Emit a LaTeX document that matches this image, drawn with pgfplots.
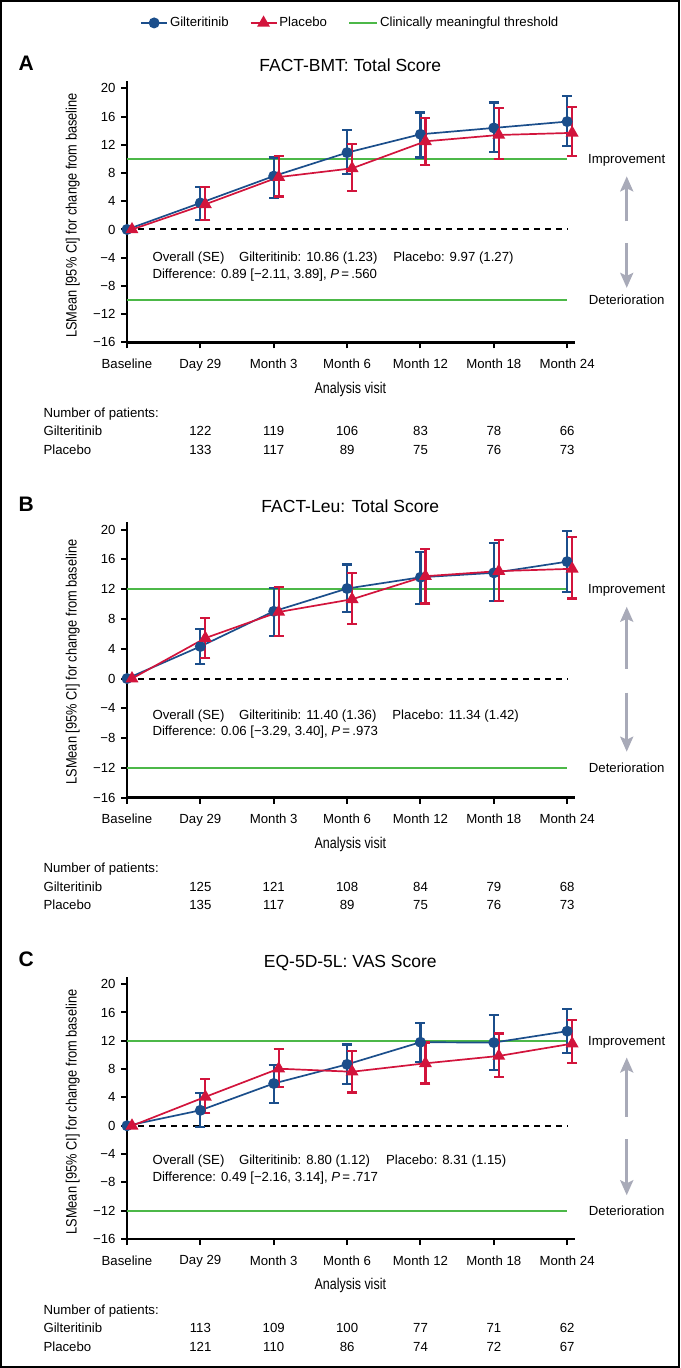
\documentclass[border=0pt]{standalone}
\usepackage{fontspec}
\setmainfont{Liberation Sans}
\newfontfamily\condfont{Liberation Sans}[FakeStretch=0.854]
\newfontfamily\narrowfont{Liberation Sans}[FakeStretch=0.80]
\usepackage{pgfplots}
\usepackage{pgfplotstable}
\pgfplotsset{compat=1.18}
\usetikzlibrary{arrows.meta}
\definecolor{gblue}{HTML}{1B4E8B}
\definecolor{pred}{HTML}{D2143C}
\definecolor{tgreen}{HTML}{4CB848}
\definecolor{agray}{HTML}{A8AAB8}
\newcommand{\fs}{\fontsize{13.2}{15.8}\selectfont}

% ---------- Panel A: FACT-BMT ----------
\pgfplotstableread{
x y hi lo
0 0 0 0
1 3.76 6.05 1.33
2 7.57 10.20 4.52
3 10.90 14.10 7.86
4 13.50 16.60 10.20
5 14.40 18.00 11.00
6 15.30 18.95 11.80
}\AG
\pgfplotstableread{
x y hi lo
0.068 0 0 0
1.068 3.57 6.05 1.33
2.068 7.43 10.40 4.67
3.068 8.67 12.10 5.43
4.068 12.50 15.80 9.10
5.068 13.40 17.20 9.95
6.068 13.70 17.40 10.40
}\AP
% ---------- Panel B: FACT-Leu ----------
\pgfplotstableread{
x y hi lo
0 0 0 0
1 4.31 6.70 1.93
2 9.03 12.18 5.75
3 12.09 15.33 8.90
4 13.60 17.00 10.00
5 14.20 18.16 10.38
6 15.70 19.80 11.60
}\BG
\pgfplotstableread{
x y hi lo
0.068 0 0 0
1.068 5.44 8.09 2.74
2.068 8.94 12.30 5.75
3.068 10.65 14.20 7.37
4.068 13.75 17.35 10.07
5.068 14.43 18.56 10.47
6.068 14.74 18.97 10.74
}\BP
% ---------- Panel C: EQ-5D-5L VAS ----------
\pgfplotstableread{
x y hi lo
0 0 0 0
1 2.18 4.64 -0.19
2 5.97 8.58 3.22
3 8.67 11.47 5.88
4 11.80 14.55 9.05
5 11.75 15.60 7.87
6 13.36 16.45 10.33
}\CG
\pgfplotstableread{
x y hi lo
0.068 0 0 0
1.068 4.08 6.59 1.75
2.068 8.06 10.85 5.50
3.068 7.63 10.57 4.69
4.068 8.82 11.75 5.97
5.068 9.86 13.03 6.92
6.068 11.60 14.98 8.82
}\CP

\pgfplotsset{
  panel/.style={
    scale only axis, width=446.7pt,
    xmin=0, xmax=6.089, ymin=-16, ymax=20.85,
    axis x line*=bottom, axis y line*=left,
    axis line style={line width=2.6pt, black, line cap=rect},
    x axis line style={line width=2.6pt, black},
    y axis line style={line width=2.6pt, black},
    every outer x axis line/.append style={line width=2.6pt},
    every outer y axis line/.append style={line width=2.6pt},
    tick align=outside, major tick length=6pt,
    major tick style={black, line width=2pt},
    xtick={0,...,6},
    xticklabels={Baseline,Day 29,Month 3,Month 6,Month 12,Month 18,Month 24},
    ytick={-16,-12,...,20},
    yticklabels={−16,−12,−8,−4,0,4,8,12,16,20},
    tick label style={font=\fs},
    xticklabel style={yshift=-7pt},
    yticklabel style={xshift=-2pt},
    clip=false,
  },
  gline/.style={gblue, line width=1.7pt, mark=*, mark size=4.6pt, mark options={solid, fill=gblue}},
  pline/.style={pred, line width=1.7pt, mark=triangle*, mark size=5.8pt, mark options={solid, fill=pred}},
  gerr/.style={gblue, line width=2.2pt, draw=none, mark=none, forget plot, skip coords between index={0}{1},
     error bars/.cd, y dir=both, y explicit,
     error bar style={draw=gblue, line width=2.2pt},
     error mark options={draw=gblue, line width=2.2pt, mark size=5pt, rotate=90}},
  perr/.style={pred, line width=2.2pt, draw=none, mark=none, forget plot, skip coords between index={0}{1},
     error bars/.cd, y dir=both, y explicit,
     error bar style={draw=pred, line width=2.2pt},
     error mark options={draw=pred, line width=2.2pt, mark size=5pt, rotate=90}},
  thr/.style={tgreen, line width=2pt, forget plot},
  zer/.style={black, line width=2pt, dash pattern=on 6pt off 5pt, forget plot},
  mleg/.style={legend image code/.code={\draw[mark repeat=2,mark phase=2,##1] plot coordinates {(0pt,0pt)(13pt,0pt)(26pt,0pt)};}},
  lleg/.style={legend image code/.code={\draw[##1] (0pt,0pt) -- (28pt,0pt);}},
}
\tikzset{arr/.style={agray, line width=2.8pt, -{Stealth[length=15pt,width=13pt,inset=3pt]}}}

\begin{document}
\begin{tikzpicture}[x=1pt,y=1pt,font=\fs]
\path[use as bounding box] (0,0) rectangle (680,-1368);
\draw[line width=2pt] (1,-1) rectangle (679,-1367);

% ================= Panel A =================
\begin{axis}[panel, at={(127pt,-342.3pt)}, anchor=south west, height=259.85pt,
  legend style={at={(axis description cs:0.5,1.229)}, anchor=center, draw=none, fill=none,
    font=\fs, legend columns=3, /tikz/every even column/.append style={column sep=19pt}}]
\addlegendimage{gline, mleg}
\addlegendentry{Gilteritinib}
\addlegendimage{pline, mleg}
\addlegendentry{Placebo}
\addlegendimage{tgreen, line width=2pt, lleg}
\addlegendentry{Clinically meaningful threshold}
\addplot[thr] coordinates {(0,10) (6,10)};
\addplot[thr] coordinates {(0,-10) (6,-10)};
\addplot[zer] coordinates {(0,0) (6,0)};
\addplot[gline, forget plot] table[x=x,y=y] {\AG};
\addplot[gerr] table[x=x,y=y,y error plus expr=\thisrow{hi}-\thisrow{y}, y error minus expr=\thisrow{y}-\thisrow{lo}] {\AG};
\addplot[pline, forget plot] table[x=x,y=y] {\AP};
\addplot[perr] table[x=x,y=y,y error plus expr=\thisrow{hi}-\thisrow{y}, y error minus expr=\thisrow{y}-\thisrow{lo}] {\AP};
\draw[arr] (axis cs:6.812,1.14) -- (axis cs:6.812,7.53);
\draw[arr] (axis cs:6.812,-1.89) -- (axis cs:6.812,-8.28);
\node[anchor=base, yshift=-4.7pt] at (axis cs:6.812,10) {Improvement};
\node[anchor=base, yshift=-4.7pt] at (axis cs:6.812,-10) {Deterioration};
\end{axis}

% ================= Panel B =================
\begin{axis}[panel, at={(127pt,-797.7pt)}, anchor=south west, height=274.4pt]
\addplot[thr] coordinates {(0,12) (6,12)};
\addplot[thr] coordinates {(0,-12) (6,-12)};
\addplot[zer] coordinates {(0,0) (6,0)};
\addplot[gline, forget plot] table[x=x,y=y] {\BG};
\addplot[gerr] table[x=x,y=y,y error plus expr=\thisrow{hi}-\thisrow{y}, y error minus expr=\thisrow{y}-\thisrow{lo}] {\BG};
\addplot[pline, forget plot] table[x=x,y=y] {\BP};
\addplot[perr] table[x=x,y=y,y error plus expr=\thisrow{hi}-\thisrow{y}, y error minus expr=\thisrow{y}-\thisrow{lo}] {\BP};
\draw[arr] (axis cs:6.812,1.30) -- (axis cs:6.812,9.64);
\draw[arr] (axis cs:6.812,-1.88) -- (axis cs:6.812,-9.82);
\node[anchor=base, yshift=-4.7pt] at (axis cs:6.812,12) {Improvement};
\node[anchor=base, yshift=-4.7pt] at (axis cs:6.812,-12) {Deterioration};
\end{axis}

% ================= Panel C =================
\begin{axis}[panel, at={(127pt,-1239pt)}, anchor=south west, height=260.85pt]
\addplot[thr] coordinates {(0,12) (6,12)};
\addplot[thr] coordinates {(0,-12) (6,-12)};
\addplot[zer] coordinates {(0,0) (6,0)};
\addplot[gline, forget plot] table[x=x,y=y] {\CG};
\addplot[gerr] table[x=x,y=y,y error plus expr=\thisrow{hi}-\thisrow{y}, y error minus expr=\thisrow{y}-\thisrow{lo}] {\CG};
\addplot[pline, forget plot] table[x=x,y=y] {\CP};
\addplot[perr] table[x=x,y=y,y error plus expr=\thisrow{hi}-\thisrow{y}, y error minus expr=\thisrow{y}-\thisrow{lo}] {\CP};
\draw[arr] (axis cs:6.812,1.30) -- (axis cs:6.812,9.64);
\draw[arr] (axis cs:6.812,-1.88) -- (axis cs:6.812,-9.82);
\node[anchor=base, yshift=-4.7pt] at (axis cs:6.812,12) {Improvement};
\node[anchor=base, yshift=-4.7pt] at (axis cs:6.812,-12) {Deterioration};
\end{axis}

% ---------- letters & titles ----------
\node[anchor=base west, font=\fontsize{21}{24}\selectfont\bfseries] at (15,-70.5) {A};
\node[anchor=base west, font=\fontsize{21}{24}\selectfont\bfseries] at (15,-511.7) {B};
\node[anchor=base west, font=\fontsize{21}{24}\selectfont\bfseries] at (15,-966.5) {C};
\node[anchor=base, font=\fontsize{17.5}{20}\selectfont] at (350.3,-71) {FACT-BMT: Total Score};
\node[anchor=base, font=\fontsize{17.5}{20}\selectfont] at (350.3,-512.6) {FACT-Leu: Total Score};
\node[anchor=base, font=\fontsize{17.5}{20}\selectfont] at (350.3,-967.1) {EQ-5D-5L: VAS Score};

% ---------- y labels ----------
\node[rotate=90, font=\fontsize{15}{18}\condfont] at (72.8,-215.5) {LSMean [95\% CI] for change from baseline};
\node[rotate=90, font=\fontsize{15}{18}\condfont] at (72.8,-662) {LSMean [95\% CI] for change from baseline};
\node[rotate=90, font=\fontsize{15}{18}\condfont] at (72.8,-1112) {LSMean [95\% CI] for change from baseline};

% ---------- x labels ----------
\node[anchor=base, font=\fontsize{15.6}{18}\narrowfont] at (350.3,-393.5) {Analysis visit};
\node[anchor=base, font=\fontsize{15.6}{18}\narrowfont] at (350.3,-848.5) {Analysis visit};
\node[anchor=base, font=\fontsize{15.6}{18}\narrowfont] at (350.3,-1289.5) {Analysis visit};

% ---------- overall statistics ----------
\node[anchor=base west] at (149,-261.4) {\makebox[86.5pt][l]{Overall (SE)}Gilteritinib: 10.86 (1.23)\hspace{16pt}Placebo: 9.97 (1.27)};
\node[anchor=base west] at (149,-278) {Difference: 0.89 [−2.11, 3.89], \textit{P}\,=\,.560};
\node[anchor=base west] at (149,-719.7) {\makebox[86.5pt][l]{Overall (SE)}Gilteritinib: 11.40 (1.36)\hspace{16pt}Placebo: 11.34 (1.42)};
\node[anchor=base west] at (149,-735.2) {Difference: 0.06 [−3.29, 3.40], \textit{P}\,=\,.973};
\node[anchor=base west] at (149,-1164.7) {\makebox[86.5pt][l]{Overall (SE)}Gilteritinib: 8.80 (1.12)\hspace{16pt}Placebo: 8.31 (1.15)};
\node[anchor=base west] at (149,-1181.4) {Difference: 0.49 [−2.16, 3.14], \textit{P}\,=\,.717};

% ---------- number of patients ----------
\node[anchor=base west] at (40,-417.5) {Number of patients:};
\node[anchor=base west] at (40,-435.8) {Gilteritinib};
\node[anchor=base west] at (40,-454.4) {Placebo};
\foreach \xx/\g/\p in {200.4/122/133, 273.7/119/117, 347.1/106/89, 420.5/83/75, 493.9/78/76, 567.2/66/73}{
  \node[anchor=base] at (\xx,-435.8) {\g};
  \node[anchor=base] at (\xx,-454.4) {\p};
}
\node[anchor=base west] at (40,-872.9) {Number of patients:};
\node[anchor=base west] at (40,-891.2) {Gilteritinib};
\node[anchor=base west] at (40,-909.8) {Placebo};
\foreach \xx/\g/\p in {200.4/125/135, 273.7/121/117, 347.1/108/89, 420.5/84/75, 493.9/79/76, 567.2/68/73}{
  \node[anchor=base] at (\xx,-891.2) {\g};
  \node[anchor=base] at (\xx,-909.8) {\p};
}
\node[anchor=base west] at (40,-1314.2) {Number of patients:};
\node[anchor=base west] at (40,-1332.5) {Gilteritinib};
\node[anchor=base west] at (40,-1351.1) {Placebo};
\foreach \xx/\g/\p in {200.4/113/121, 273.7/109/110, 347.1/100/86, 420.5/77/74, 493.9/71/72, 567.2/62/67}{
  \node[anchor=base] at (\xx,-1332.5) {\g};
  \node[anchor=base] at (\xx,-1351.1) {\p};
}
\end{tikzpicture}
\end{document}
